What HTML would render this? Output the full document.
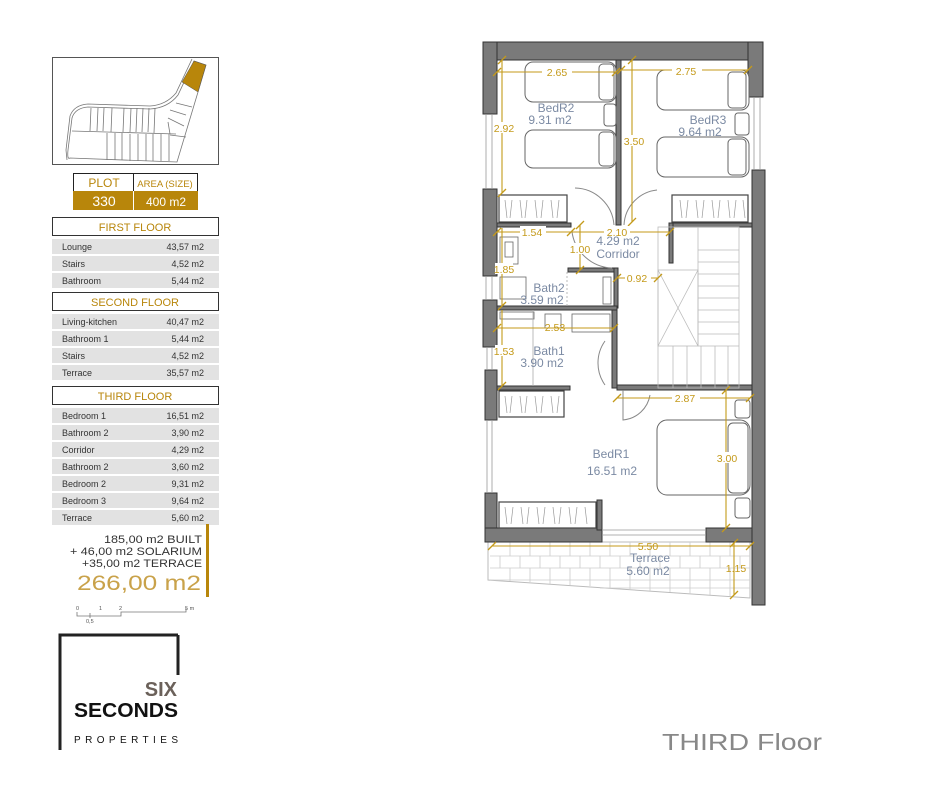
<!DOCTYPE html>
<html><head><meta charset="utf-8"><style>
html,body{margin:0;padding:0;background:#fff;}
svg{display:block;font-family:"Liberation Sans",sans-serif;}
</style></head><body>
<svg width="940" height="788" viewBox="0 0 940 788" xmlns="http://www.w3.org/2000/svg">
<!-- site map -->
<rect x="52.5" y="57.5" width="166" height="107" fill="#fff" stroke="#555" stroke-width="1"/>
<g fill="none" stroke="#777" stroke-width="0.8">
<path d="M70 158 Q67 160 68 150 L72 118 Q75 108 88 107 L150 109 Q168 108 178 95 L194 61 L206 65 L198 92 L177 162 Z"/>
<path d="M67 160 L66 150 L70 116 Q74 105 88 104 L150 106 Q166 105 176 93 L192 59"/>
<line x1="72" y1="131" x2="176" y2="134"/>
<path d="M91 108L90 131M98 108L97 131M104 108L103 131M112 108L111 132M124 108L123 132M131 108L130 132M137 108L136 132M143 108L142 132M149 108L148 132M155 108L154 133"/>
<path d="M107 133V160M115 133V160M122 133V160M130 134V161M138 134V161M146 134V161M153 134V161M161 134V161M169 134V161"/>
<path d="M170 110L186 115M176 103L192 107M168 118L184 126M168 122L170 134M170 135L186 137"/>
</g>
<polygon points="194,61 206,65 198,92 182,82" fill="#b8860b" stroke="#555" stroke-width="0.5"/>
<!-- plot table -->
<rect x="73.5" y="173.5" width="124" height="18" fill="#fff" stroke="#222"/>
<line x1="133.5" y1="173" x2="133.5" y2="210" stroke="#222"/>
<rect x="73" y="191" width="125" height="19" fill="#b8860b"/>
<line x1="133.5" y1="191" x2="133.5" y2="210" stroke="#fff"/>
<text x="104" y="187" font-size="12" fill="#b8860b" text-anchor="middle">PLOT</text>
<text x="165" y="187" font-size="9.5" fill="#b8860b" text-anchor="middle">AREA (SIZE)</text>
<text x="104" y="206" font-size="14" fill="#fff" text-anchor="middle">330</text>
<text x="166" y="206" font-size="12" fill="#fff" text-anchor="middle">400 m2</text>
<!-- sections -->
<g font-size="9" fill="#333">
<rect x="52.5" y="217.5" width="166" height="18" fill="#fff" stroke="#333"/>
<text x="135" y="231" font-size="11" fill="#b8860b" text-anchor="middle">FIRST FLOOR</text>
<rect x="52" y="239" width="167" height="15" fill="#e2e2e2"/><text x="62" y="250">Lounge</text><text x="204" y="250" text-anchor="end">43,57 m2</text>
<rect x="52" y="256" width="167" height="15" fill="#e2e2e2"/><text x="62" y="267">Stairs</text><text x="204" y="267" text-anchor="end">4,52 m2</text>
<rect x="52" y="273" width="167" height="15" fill="#e2e2e2"/><text x="62" y="284">Bathroom</text><text x="204" y="284" text-anchor="end">5,44 m2</text>
<rect x="52.5" y="292.5" width="166" height="18" fill="#fff" stroke="#333"/>
<text x="135" y="306" font-size="11" fill="#b8860b" text-anchor="middle">SECOND FLOOR</text>
<rect x="52" y="314" width="167" height="15" fill="#e2e2e2"/><text x="62" y="325">Living-kitchen</text><text x="204" y="325" text-anchor="end">40,47 m2</text>
<rect x="52" y="331" width="167" height="15" fill="#e2e2e2"/><text x="62" y="342">Bathroom 1</text><text x="204" y="342" text-anchor="end">5,44 m2</text>
<rect x="52" y="348" width="167" height="15" fill="#e2e2e2"/><text x="62" y="359">Stairs</text><text x="204" y="359" text-anchor="end">4,52 m2</text>
<rect x="52" y="365" width="167" height="15" fill="#e2e2e2"/><text x="62" y="376">Terrace</text><text x="204" y="376" text-anchor="end">35,57 m2</text>
<rect x="52.5" y="386.5" width="166" height="18" fill="#fff" stroke="#333"/>
<text x="135" y="400" font-size="11" fill="#b8860b" text-anchor="middle">THIRD FLOOR</text>
<rect x="52" y="408" width="167" height="15" fill="#e2e2e2"/><text x="62" y="419">Bedroom 1</text><text x="204" y="419" text-anchor="end">16,51 m2</text>
<rect x="52" y="425" width="167" height="15" fill="#e2e2e2"/><text x="62" y="436">Bathroom 2</text><text x="204" y="436" text-anchor="end">3,90 m2</text>
<rect x="52" y="442" width="167" height="15" fill="#e2e2e2"/><text x="62" y="453">Corridor</text><text x="204" y="453" text-anchor="end">4,29 m2</text>
<rect x="52" y="459" width="167" height="15" fill="#e2e2e2"/><text x="62" y="470">Bathroom 2</text><text x="204" y="470" text-anchor="end">3,60 m2</text>
<rect x="52" y="476" width="167" height="15" fill="#e2e2e2"/><text x="62" y="487">Bedroom 2</text><text x="204" y="487" text-anchor="end">9,31 m2</text>
<rect x="52" y="493" width="167" height="15" fill="#e2e2e2"/><text x="62" y="504">Bedroom 3</text><text x="204" y="504" text-anchor="end">9,64 m2</text>
<rect x="52" y="510" width="167" height="15" fill="#e2e2e2"/><text x="62" y="521">Terrace</text><text x="204" y="521" text-anchor="end">5,60 m2</text>
</g>
<rect x="206" y="524" width="3" height="73" fill="#b8860b"/>
<g font-size="11" fill="#333">
<text x="104" y="543" textLength="98" lengthAdjust="spacingAndGlyphs">185,00 m2 BUILT</text>
<text x="70" y="555" textLength="132" lengthAdjust="spacingAndGlyphs">+ 46,00 m2 SOLARIUM</text>
<text x="82" y="567" textLength="120" lengthAdjust="spacingAndGlyphs">+35,00 m2 TERRACE</text>
</g>
<text x="77" y="590" font-size="21" fill="#c9a24a" textLength="124" lengthAdjust="spacingAndGlyphs">266,00 m2</text>
<g stroke="#777" stroke-width="0.8" fill="none"><path d="M77 612 V616 H90 V613 M90 616 H121 V612 H186 V608"/><path d="M90 616 V618"/></g>
<g font-size="5.5" fill="#555"><text x="76" y="610">0</text><text x="99" y="610">1</text><text x="119" y="610">2</text><text x="185" y="610">5 m</text><text x="86" y="623">0,5</text></g>
<!-- logo -->
<path d="M178 635 H60 V750" fill="none" stroke="#222" stroke-width="3"/>
<path d="M178 635 V675" fill="none" stroke="#222" stroke-width="3"/>
<text x="177" y="696" font-size="20" fill="#6b615a" text-anchor="end" font-weight="bold">SIX</text>
<text x="74" y="717" font-size="20" fill="#111" font-weight="bold" textLength="104" lengthAdjust="spacingAndGlyphs">SECONDS</text>
<text x="74" y="743" font-size="10" fill="#111" textLength="104" lengthAdjust="spacing">PROPERTIES</text>
<text x="662" y="750" font-size="23" fill="#888" textLength="160" lengthAdjust="spacingAndGlyphs">THIRD  Floor</text>

<!-- PLAN -->
<g fill="#fff" stroke="#bbb" stroke-width="1">
<polygon points="488,542 750,542 750,598 488,580"/>
</g>
<g stroke="#ccc" stroke-width="0.8">
<line x1="490" y1="556" x2="750" y2="556"/><line x1="490" y1="568" x2="750" y2="568"/><line x1="490" y1="580" x2="750" y2="580"/><line x1="600" y1="588" x2="750" y2="588"/>
</g>
<g stroke="#ccc" stroke-width="0.8">
<path d="M510 542V556M530 542V556M550 542V556M570 542V556M590 542V556M610 542V556M630 542V556M650 542V556M670 542V556M690 542V556M710 542V556M730 542V556"/>
<path d="M500 556V568M520 556V568M540 556V568M560 556V568M580 556V568M600 556V568M620 556V568M640 556V568M660 556V568M680 556V568M700 556V568M720 556V568M740 556V568"/>
<path d="M510 568V581M530 568V582M550 568V584M570 568V585M590 568V586M610 568V588M630 568V589M650 568V591M670 568V592M690 568V594M710 568V595M730 568V596"/>
</g>
<g fill="#7a7a7a" stroke="#333" stroke-width="1">
<rect x="483" y="42" width="280" height="18"/>
<rect x="483" y="42" width="14" height="72"/>
<rect x="483" y="189" width="14" height="87"/>
<rect x="483" y="300" width="14" height="47"/>
<rect x="485" y="370" width="12" height="50"/>
<rect x="485" y="493" width="12" height="49"/>
<rect x="485" y="528" width="117" height="14"/>
<rect x="706" y="528" width="46" height="14"/>
<rect x="748" y="42" width="15" height="55"/>
<rect x="752" y="170" width="13" height="435"/>
<rect x="616" y="60" width="5" height="165"/>
<rect x="612" y="306" width="5" height="82"/>
<rect x="617" y="385" width="135" height="5"/>
<rect x="497" y="223" width="74" height="4"/>
<rect x="669" y="223" width="83" height="4"/>
<rect x="669" y="223" width="4" height="40"/>
<rect x="568" y="268" width="50" height="4"/>
<rect x="614" y="268" width="4" height="40"/>
<rect x="497" y="306" width="120" height="4"/>
<rect x="497" y="386" width="73" height="4"/>
<rect x="597" y="500" width="5" height="30"/>
</g>
<g stroke="#999" stroke-width="0.8" fill="none">
<path d="M486 114V189M492 114V189M486 276V300M492 276V300M487 347V370M492 347V370M487 420V493M492 420V493M754 97V170M760 97V170M602 530H706M602 535H706"/>
</g>
<g fill="#fff" stroke="#444" stroke-width="1.2">
<rect x="499" y="195" width="68" height="27"/>
<rect x="672" y="195" width="76" height="27"/>
<rect x="499" y="391" width="65" height="26"/>
<rect x="499" y="502" width="97" height="26"/>
</g>
<g stroke="#999" stroke-width="0.7">
<path d="M505 200l2 18M512 200l-2 18M520 200l2 18M527 200l-2 18M535 200l2 18M543 200l-2 18M551 200l2 18M559 200l-2 18"/>
<path d="M680 200l2 18M688 200l-2 18M696 200l2 18M704 200l-2 18M712 200l2 18M720 200l-2 18M728 200l2 18M736 200l-2 18M743 200l2 18"/>
<path d="M505 396l2 17M512 396l-2 17M520 396l2 17M527 396l-2 17M535 396l2 17M543 396l-2 17M551 396l2 17M559 396l-2 17"/>
<path d="M505 507l2 17M513 507l-2 17M521 507l2 17M529 507l-2 17M537 507l2 17M545 507l-2 17M553 507l2 17M561 507l-2 17M569 507l2 17M577 507l-2 17M585 507l2 17"/>
</g>
<g fill="#fff" stroke="#666" stroke-width="1">
<rect x="525" y="62" width="91" height="40" rx="8"/><rect x="599" y="64" width="15" height="36" rx="4"/>
<rect x="525" y="130" width="91" height="38" rx="8"/><rect x="599" y="132" width="15" height="34" rx="4"/>
<rect x="604" y="104" width="12" height="22" rx="3"/>
<rect x="657" y="70" width="92" height="40" rx="8"/><rect x="728" y="72" width="18" height="36" rx="4"/>
<rect x="657" y="137" width="92" height="40" rx="8"/><rect x="728" y="139" width="18" height="36" rx="4"/>
<rect x="735" y="113" width="14" height="22" rx="3"/>
<rect x="657" y="420" width="93" height="75" rx="10"/><rect x="728" y="423" width="20" height="70" rx="5"/>
<rect x="735" y="400" width="15" height="18" rx="3"/><rect x="735" y="498" width="15" height="20" rx="3"/>
</g>
<g fill="none" stroke="#bbb" stroke-width="0.8">
<rect x="658" y="227" width="81" height="161"/>
<rect x="658" y="270" width="40" height="76"/>
<path d="M658 270L698 346M698 270L658 346M698 250H739M698 262H739M698 274H739M698 286H739M698 298H739M698 310H739M698 322H739M698 334H739M698 346H739M673 346V388M687 346V388M701 346V388M715 346V388M728 346V388M698 227V346"/>
</g>
<g fill="none" stroke="#888" stroke-width="1">
<path d="M614 225 A40 40 0 0 0 575 188"/><path d="M624 225 A37 37 0 0 1 657 190"/>
<path d="M572 232 A42 42 0 0 0 612 268"/>
<path d="M605 341 A38 38 0 0 0 605 385"/>
<path d="M623 390 L623 420 A30 30 0 0 0 650 395"/>
</g>
<g fill="#fff" stroke="#666" stroke-width="0.8">
<rect x="500" y="237" width="18" height="27"/><rect x="505" y="242" width="8" height="15"/>
<rect x="500" y="277" width="26" height="22"/>
<rect x="603" y="277" width="8" height="27"/>
<rect x="500" y="312" width="34" height="7"/>
<rect x="545" y="314" width="16" height="14"/><rect x="572" y="314" width="38" height="18"/>
</g>
<g stroke="#aaa" stroke-width="0.8"><line x1="533" y1="310" x2="533" y2="386"/><line x1="567" y1="272" x2="567" y2="306" stroke-dasharray="2,2"/></g>
<g stroke="#c49a1a" stroke-width="1.1" fill="none">
<line x1="497" y1="72" x2="616" y2="72"/><line x1="621" y1="70" x2="748" y2="70"/>
<line x1="502" y1="60" x2="502" y2="193"/><line x1="632" y1="60" x2="632" y2="222"/>
<line x1="497" y1="232" x2="571" y2="232"/><line x1="571" y1="232" x2="670" y2="232"/>
<line x1="580" y1="225" x2="580" y2="270"/>
<line x1="617" y1="278" x2="658" y2="278"/>
<line x1="502" y1="228" x2="502" y2="306"/>
<line x1="497" y1="328" x2="614" y2="328"/>
<line x1="502" y1="310" x2="502" y2="386"/>
<line x1="617" y1="398" x2="750" y2="398"/>
<line x1="726" y1="390" x2="726" y2="528"/>
<line x1="492" y1="546" x2="750" y2="546"/>
<line x1="734" y1="543" x2="734" y2="595"/>
</g>
<g stroke="#c49a1a" stroke-width="1.3">
<path d="M493 76l8-8M612 76l8-8M617 74l8-8M744 74l8-8M498 64l8-8M498 197l8-8M628 64l8-8M628 226l8-8M493 236l8-8M567 236l8-8M666 236l8-8M576 229l8-8M576 274l8-8M613 282l8-8M654 282l8-8M498 310l8-8M493 332l8-8M610 332l8-8M498 390l8-8M613 402l8-8M746 402l8-8M722 394l8-8M722 532l8-8M488 550l8-8M746 550l8-8M730 547l8-8M730 599l8-8"/>
</g>
<g font-size="10.5" fill="#c49a1a" text-anchor="middle">
<rect x="542" y="66" width="30" height="11" fill="#fff"/><text x="557" y="76">2.65</text>
<rect x="672" y="64" width="30" height="11" fill="#fff"/><text x="686" y="75">2.75</text>
<rect x="493" y="122" width="20" height="11" fill="#fff"/><text x="504" y="132">2.92</text>
<rect x="624" y="135" width="20" height="11" fill="#fff"/><text x="634" y="145">3.50</text>
<rect x="520" y="226" width="26" height="11" fill="#fff"/><text x="532" y="236">1.54</text>
<rect x="604" y="226" width="26" height="11" fill="#fff"/><text x="617" y="236">2.10</text>
<rect x="570" y="243" width="22" height="11" fill="#fff"/><text x="580" y="253">1.00</text>
<rect x="625" y="272" width="26" height="11" fill="#fff"/><text x="637" y="282">0.92</text>
<rect x="495" y="263" width="18" height="11" fill="#fff"/><text x="504" y="273">1.85</text>
<text x="555" y="331">2.53</text>
<rect x="495" y="345" width="18" height="11" fill="#fff"/><text x="504" y="355">1.53</text>
<rect x="672" y="393" width="28" height="11" fill="#fff"/><text x="685" y="402">2.87</text>
<rect x="716" y="452" width="22" height="11" fill="#fff"/><text x="727" y="462">3.00</text>
<text x="648" y="550">5.50</text>
<text x="736" y="572">1.15</text>
</g>
<g font-size="12" fill="#7b8aa3" text-anchor="middle">
<text x="556" y="112">BedR2</text><text x="550" y="124">9.31 m2</text>
<text x="708" y="124">BedR3</text><text x="700" y="136">9.64 m2</text>
<text x="618" y="245">4.29 m2</text><text x="618" y="258">Corridor</text>
<text x="549" y="292">Bath2</text><text x="542" y="304">3.59 m2</text>
<text x="549" y="355">Bath1</text><text x="542" y="367">3.90 m2</text>
<text x="611" y="458">BedR1</text><text x="612" y="475">16.51 m2</text>
<text x="650" y="562">Terrace</text><text x="648" y="575">5.60 m2</text>
</g>
</svg>
</body></html>
